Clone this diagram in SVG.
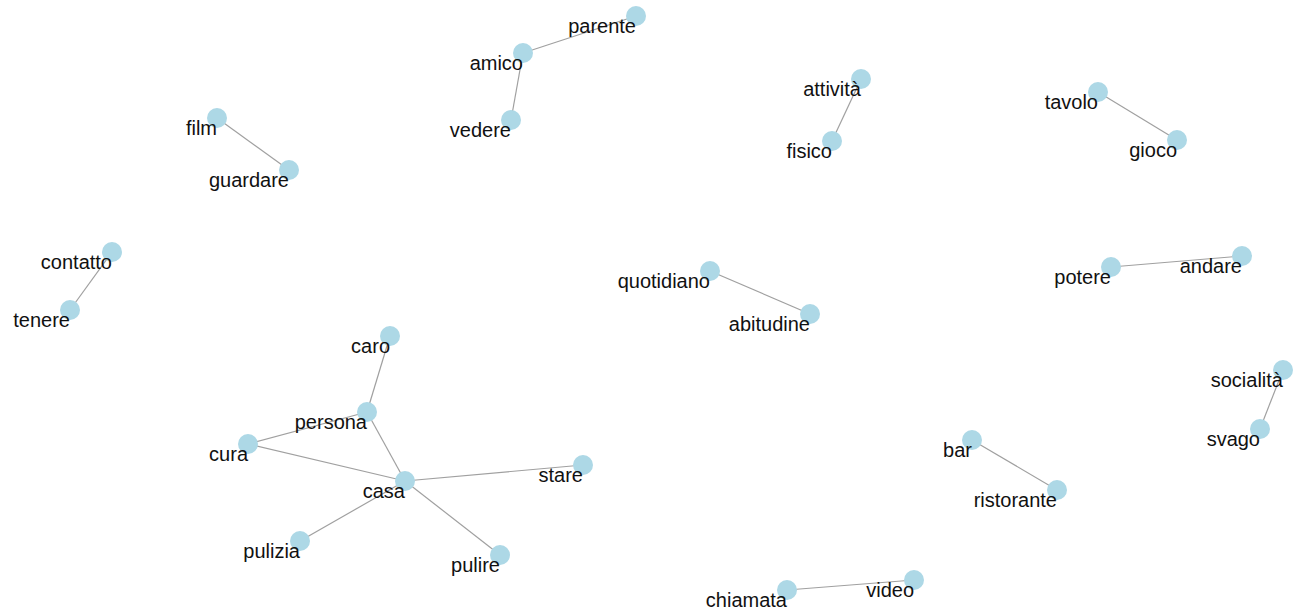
<svg xmlns="http://www.w3.org/2000/svg" width="1295" height="609" viewBox="0 0 1295 609">
<style>
.e{stroke:#a0a0a0;stroke-width:1.2;fill:none}
.n circle{fill:#add8e6}
.n text{font-family:"Liberation Sans",Arial,sans-serif;font-size:20px;fill:#111111;text-anchor:end}
</style>
<rect width="1295" height="609" fill="#ffffff"/>
<g id="edges">
<line class="e" x1="636" y1="16" x2="523" y2="53"/>
<line class="e" x1="523" y1="53" x2="511" y2="120"/>
<line class="e" x1="217" y1="118" x2="289" y2="170"/>
<line class="e" x1="861" y1="79" x2="832" y2="141"/>
<line class="e" x1="1098" y1="92" x2="1177" y2="140"/>
<line class="e" x1="112" y1="252" x2="70" y2="310"/>
<line class="e" x1="710" y1="271" x2="810" y2="314"/>
<line class="e" x1="1111" y1="267" x2="1242" y2="256"/>
<line class="e" x1="1283" y1="370" x2="1260" y2="429"/>
<line class="e" x1="390" y1="336" x2="367" y2="412"/>
<line class="e" x1="367" y1="412" x2="248" y2="444"/>
<line class="e" x1="367" y1="412" x2="405" y2="481"/>
<line class="e" x1="248" y1="444" x2="405" y2="481"/>
<line class="e" x1="405" y1="481" x2="583" y2="465"/>
<line class="e" x1="405" y1="481" x2="300" y2="541"/>
<line class="e" x1="405" y1="481" x2="500" y2="555"/>
<line class="e" x1="972" y1="440" x2="1057" y2="490"/>
<line class="e" x1="787" y1="590" x2="914" y2="580"/>
</g>
<g id="parente" class="n"><circle cx="636" cy="16" r="10"/><text x="636" y="33">parente</text></g>
<g id="amico" class="n"><circle cx="523" cy="53" r="10"/><text x="523" y="70">amico</text></g>
<g id="vedere" class="n"><circle cx="511" cy="120" r="10"/><text x="511" y="137">vedere</text></g>
<g id="film" class="n"><circle cx="217" cy="118" r="10"/><text x="217" y="135">film</text></g>
<g id="guardare" class="n"><circle cx="289" cy="170" r="10"/><text x="289" y="187">guardare</text></g>
<g id="attivita" class="n"><circle cx="861" cy="79" r="10"/><text x="861" y="96">attività</text></g>
<g id="fisico" class="n"><circle cx="832" cy="141" r="10"/><text x="832" y="158">fisico</text></g>
<g id="tavolo" class="n"><circle cx="1098" cy="92" r="10"/><text x="1098" y="109">tavolo</text></g>
<g id="gioco" class="n"><circle cx="1177" cy="140" r="10"/><text x="1177" y="157">gioco</text></g>
<g id="contatto" class="n"><circle cx="112" cy="252" r="10"/><text x="112" y="269">contatto</text></g>
<g id="tenere" class="n"><circle cx="70" cy="310" r="10"/><text x="70" y="327">tenere</text></g>
<g id="quotidiano" class="n"><circle cx="710" cy="271" r="10"/><text x="710" y="288">quotidiano</text></g>
<g id="abitudine" class="n"><circle cx="810" cy="314" r="10"/><text x="810" y="331">abitudine</text></g>
<g id="potere" class="n"><circle cx="1111" cy="267" r="10"/><text x="1111" y="284">potere</text></g>
<g id="andare" class="n"><circle cx="1242" cy="256" r="10"/><text x="1242" y="273">andare</text></g>
<g id="socialita" class="n"><circle cx="1283" cy="370" r="10"/><text x="1283" y="387">socialità</text></g>
<g id="svago" class="n"><circle cx="1260" cy="429" r="10"/><text x="1260" y="446">svago</text></g>
<g id="caro" class="n"><circle cx="390" cy="336" r="10"/><text x="390" y="353">caro</text></g>
<g id="persona" class="n"><circle cx="367" cy="412" r="10"/><text x="367" y="429">persona</text></g>
<g id="cura" class="n"><circle cx="248" cy="444" r="10"/><text x="248" y="461">cura</text></g>
<g id="casa" class="n"><circle cx="405" cy="481" r="10"/><text x="405" y="498">casa</text></g>
<g id="stare" class="n"><circle cx="583" cy="465" r="10"/><text x="583" y="482">stare</text></g>
<g id="pulizia" class="n"><circle cx="300" cy="541" r="10"/><text x="300" y="558">pulizia</text></g>
<g id="pulire" class="n"><circle cx="500" cy="555" r="10"/><text x="500" y="572">pulire</text></g>
<g id="bar" class="n"><circle cx="972" cy="440" r="10"/><text x="972" y="457">bar</text></g>
<g id="ristorante" class="n"><circle cx="1057" cy="490" r="10"/><text x="1057" y="507">ristorante</text></g>
<g id="chiamata" class="n"><circle cx="787" cy="590" r="10"/><text x="787" y="607">chiamata</text></g>
<g id="video" class="n"><circle cx="914" cy="580" r="10"/><text x="914" y="597">video</text></g>
</svg>
